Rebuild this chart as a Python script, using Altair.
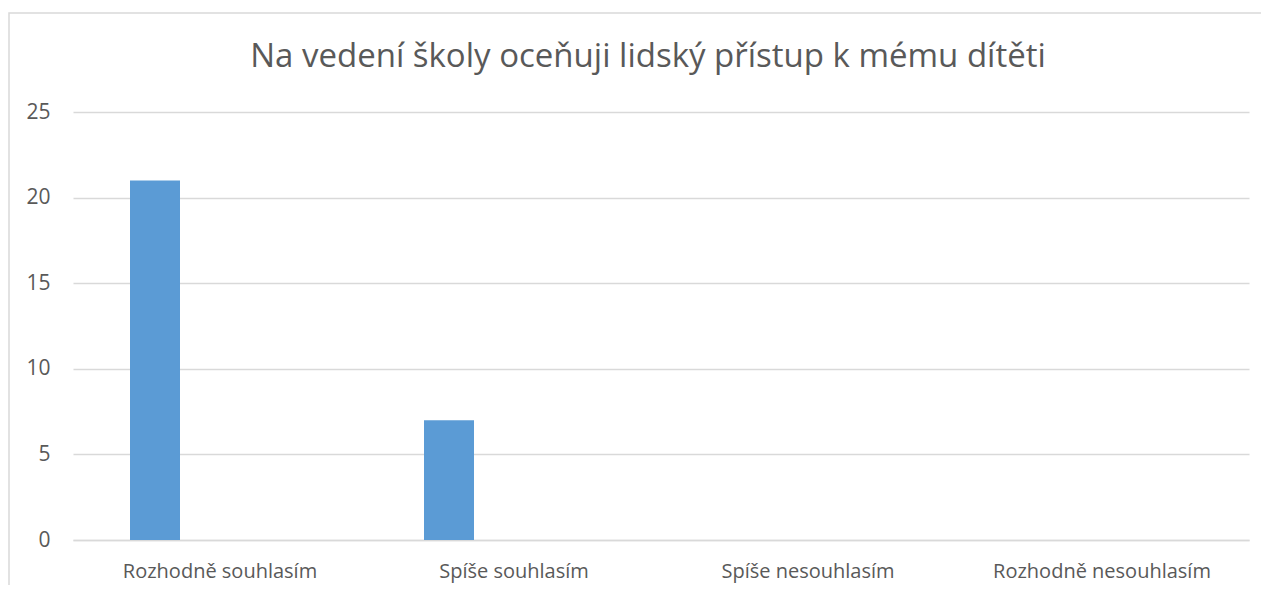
import altair as alt
import pandas as pd

categories = ["Rozhodně souhlasím", "Spíše souhlasím", "Spíše nesouhlasím", "Rozhodně nesouhlasím"]
values = [21, 7, 0, 0]
y_ticks = [0, 5, 10, 15, 20, 25]
title_text = "Na vedení školy oceňuji lidský přístup k mému dítěti"

df = pd.DataFrame({"kategorie": categories, "pocet": values})

W, H = 1176, 428
PAD = {"left": 65, "top": 104, "right": 12, "bottom": 45}

bars = alt.Chart(df).mark_bar(width=50, xOffset=-65, color="#5b9bd5").encode(
    x=alt.X("kategorie:N", sort=categories,
            scale=alt.Scale(paddingInner=0, paddingOuter=0),
            axis=alt.Axis(title=None, labelAngle=0, ticks=False, domain=True,
                          domainColor="#d9d9d9", domainWidth=1.5, labelLimit=0,
                          labelFont="Open Sans", labelFontSize=20, labelColor="#595959",
                          labelPadding=21)),
    y=alt.Y("pocet:Q", scale=alt.Scale(domain=[0, 25], nice=False),
            axis=alt.Axis(title=None, values=y_ticks, ticks=False, domain=False,
                          grid=True, gridColor="#d9d9d9", gridWidth=1.5,
                          labelFont="Open Sans", labelFontSize=21, labelColor="#595959",
                          labelPadding=23)),
)

title = alt.Chart(pd.DataFrame({"t": [title_text]})).mark_text(
    font="Open Sans", fontSize=33, color="#595959", align="center", baseline="alphabetic"
).encode(
    text="t:N", x=alt.value(648 - 73), y=alt.value(67 - 112),
)

border = alt.Chart(pd.DataFrame({"a": [0]})).mark_rect(
    fill=None, stroke="#d9d9d9", strokeWidth=1.5, clip=False
).encode(
    x=alt.value(-64), y=alt.value(-99),
    x2=alt.value(W + PAD["right"] + 20), y2=alt.value(H + PAD["bottom"] + 20),
)

chart = alt.layer(border, title, bars).properties(
    width=W, height=H,
    padding=PAD,
    autosize=alt.AutoSizeParams(type="none"),
).configure(background="white").configure_view(stroke=None, strokeWidth=0)

chart.save("out.html", embed_options={"renderer": "svg", "actions": False})
